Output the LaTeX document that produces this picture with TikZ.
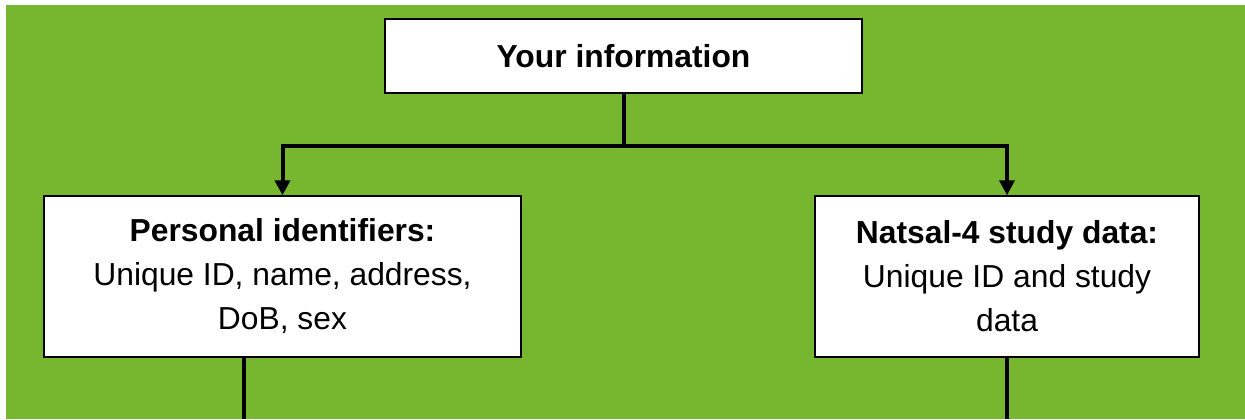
\documentclass[tikz,border=0pt]{standalone}
\usepackage{fontspec}
\setmainfont{Liberation Sans}
\usepackage{tikz}
\usetikzlibrary{calc, arrows.meta, positioning}
\definecolor{natsalgreen}{RGB}{118,183,47}

\begin{document}
\begin{tikzpicture}[x=1pt,y=1pt,inner sep=0pt,>={Triangle[length=7.5pt,width=7.5pt]},
  box/.style={draw,fill=white,line width=.75pt,align=center,font=\fontsize{15.9pt}{22pt}\selectfont},
  link/.style={line width=2pt}]
\useasboundingbox (0,0) rectangle (622.5,-209.5);
\fill [natsalgreen] (3,-2.5) rectangle (622.5,-209.5);
\node [box,minimum width=238.5pt,minimum height=37pt] (info) at (311.75,-28) {\bfseries Your information};
\node [box,minimum width=238.5pt,minimum height=80.5pt] (ident) at (141.25,-138.25)
  {\bfseries Personal identifiers:\\Unique ID, name, address,\\DoB, sex};
\node [box,minimum width=192pt,minimum height=80.5pt] (study) at (503.5,-138.25)
  {\bfseries Natsal-4 study data:\\Unique ID and study\\data};
\coordinate (split) at ($ (info.south) + (0,-26) $);
\coordinate (identend) at (122,-209.5);
\coordinate (studyend) at (study.south |- identend);
\draw [link] (info.south) -- (split);
\draw [link,->] (split) -| (ident.north);
\draw [link,->] (split) -| (study.north);
\draw [link] (ident.south -| identend) -- (identend);
\draw [link] (study.south) -- (studyend);
\end{tikzpicture}
\end{document}
